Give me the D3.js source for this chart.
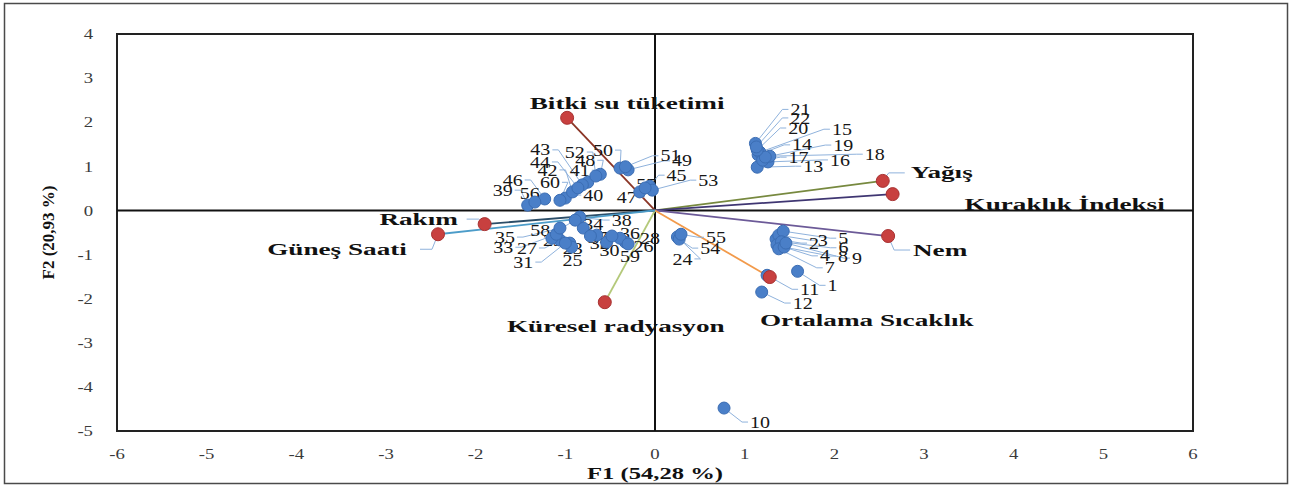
<!DOCTYPE html>
<html>
<head>
<meta charset="utf-8">
<script src="https://cdn.jsdelivr.net/npm/d3@7"></script>
<style>
  html, body { margin: 0; padding: 0; background: #fff; }
  svg { display: block; }
</style>
</head>
<body>
<svg id="chart" width="1292" height="487"></svg>
<script>
// ---------- DATA ----------
const obsNames = Array.from({length: 60}, (_, i) => String(i + 1));
const obsF1 = [1.59, 1.35, 1.38, 1.36, 1.43, 1.41, 1.38, 1.44, 1.46, 0.77,
               1.25, 1.19, 1.14, 1.15, 1.17, 1.26, 1.20, 1.28, 1.23, 1.14,
               1.12, 1.13, -0.95, 0.25, -0.93, -0.33, -1.06, -0.39, -1.15, -0.54,
               -1.00, -0.65, -1.10, -0.80, -1.06, -0.48, -0.72, -0.84, -1.42, -1.00,
               -0.75, -0.92, -0.81, -0.86, -0.06, -1.23, -0.17, -0.61, -0.30, -0.39,
               -0.33, -0.66, -0.03, 0.27, 0.29, -1.34, -0.11, -0.89, -0.30, -1.06];
const obsF2 = [-1.38, -0.65, -0.56, -0.78, -0.47, -0.71, -0.87, -0.83, -0.74, -4.48,
               -1.47, -1.85, 0.98, 1.26, 1.32, 1.10, 1.14, 1.23, 1.21, 1.37,
               1.52, 1.44, -0.74, -0.60, -0.83, -0.72, -0.67, -0.63, -0.63, -0.72,
               -0.74, -0.56, -0.54, -0.40, -0.40, -0.58, -0.58, -0.15, 0.12, 0.28,
               0.64, 0.42, 0.58, 0.51, 0.55, 0.26, 0.42, 0.82, 0.92, 0.96,
               0.99, 0.78, 0.46, -0.65, -0.54, 0.19, 0.51, -0.22, -0.76, 0.23];

const varNames = ["Bitki su tüketimi", "Yağış", "Kuraklık İndeksi", "Nem",
                  "Ortalama Sıcaklık", "Küresel radyasyon", "Rakım", "Güneş Saati"];
const varF1 = [-0.98, 2.54, 2.65, 2.60, 1.28, -0.56, -1.90, -2.42];
const varF2 = [2.10, 0.67, 0.37, -0.58, -1.51, -2.08, -0.31, -0.54];

const xTicks = [-6, -5, -4, -3, -2, -1, 0, 1, 2, 3, 4, 5, 6];
const yTicks = [4, 3, 2, 1, 0, -1, -2, -3, -4, -5];
const xTitle = "F1 (54,28 %)";
const yTitle = "F2 (20,93 %)";

// ---------- STYLE / LAYOUT ----------
const varColors = ["#8B3526", "#77893F", "#3F3672", "#6C5A98",
                   "#F29A4B", "#B4C97A", "#2B4D68", "#4C9CC9"];
// label offsets in pixels relative to the marker (left edge / vertical middle)
const obsLabelOffset = [
  [30,14],[33,4],[39,5],[43,11],[55,7],[57,6],[46,19],[54,9],[66,15],[26,14],
  [33,14],[31,11],[46,-1],[34,-10],[72,-23],[62,-2],[26,-3],[95,-2],[68,-12],[31,-22],
  [35,-34],[34,-29],[-7,5],[-5,22],[-9,13],[8,4],[-43,8],[20,0],[-9,2],[-7,8],
  [-52,19],[-7,8],[-63,13],[0,-4],[-65,9],[8,-3],[-3,1],[32,3],[-35,-15],[18,-3],
  [-18,-12],[-35,-22],[-52,-35],[-48,-26],[17,-11],[-42,-19],[-23,5],[-25,-14],[44,-9],[-27,-18],
  [35,-11],[-31,-24],[46,-10],[21,9],[25,3],[-15,-9],[-9,-4],[-45,10],[-8,12],[-20,-18]
];
// variable label centre offsets in pixels
const varLabelOffset = [[60,-14],[59,-8],[172,10],[52,14],[97,43],[11,24],[-66,-5],[-101,15]];
const varLeader = [false, true, false, true, false, false, true, true];

const W = 1292, H = 487;
const plot = {left: 117, right: 1193, top: 34, bottom: 431};
const serif = "'Liberation Serif', 'Times New Roman', serif";

const svg = d3.select("#chart");
const x = d3.scaleLinear().domain([-6, 6]).range([plot.left, plot.right]);
const y = d3.scaleLinear().domain([-5, 4]).range([plot.bottom, plot.top]);

// outer border
svg.append("rect").attr("x", 4.5).attr("y", 3.5).attr("width", W - 9).attr("height", H - 7)
  .attr("fill", "#fff").attr("stroke", "#4a4a4a").attr("stroke-width", 1.5);

// helper for horizontally stretched text
function sText(parent, tx, ty, str, opts) {
  const g = parent.append("g").attr("transform", `translate(${tx},${ty})`);
  const t = g.append("text")
    .attr("transform", `scale(${opts.sx || 1},1)`)
    .attr("dy", "0.35em")
    .attr("text-anchor", opts.anchor || "start")
    .attr("font-family", serif)
    .attr("font-size", opts.size)
    .attr("font-weight", opts.weight || "normal")
    .attr("fill", opts.fill || "#111")
    .text(str);
  return t;
}

// plot frame
svg.append("rect").attr("x", plot.left).attr("y", plot.top)
  .attr("width", plot.right - plot.left).attr("height", plot.bottom - plot.top)
  .attr("fill", "none").attr("stroke", "#222").attr("stroke-width", 2);

// zero axes
svg.append("line").attr("x1", x(0)).attr("x2", x(0)).attr("y1", plot.top).attr("y2", plot.bottom)
  .attr("stroke", "#111").attr("stroke-width", 2);
svg.append("line").attr("x1", plot.left).attr("x2", plot.right).attr("y1", y(0)).attr("y2", y(0))
  .attr("stroke", "#111").attr("stroke-width", 2);

// tick labels
const tickG = svg.append("g");
xTicks.forEach(v => sText(tickG, x(v), 454, String(v), {size: 15, sx: 1.25, anchor: "middle", fill: "#3a3a3a"}));
yTicks.forEach(v => sText(tickG, 93, y(v), String(v), {size: 15, sx: 1.25, anchor: "end", fill: "#3a3a3a"}));

// axis titles
sText(svg, x(0), 473, xTitle, {size: 17, sx: 1.45, anchor: "middle", weight: "bold"});
svg.append("text")
  .attr("transform", `translate(48,${(plot.top + plot.bottom) / 2}) rotate(-90)`)
  .attr("dy", "0.35em").attr("text-anchor", "middle")
  .attr("font-family", serif).attr("font-size", 17).attr("font-weight", "bold")
  .attr("fill", "#111").text(yTitle);

// variable vectors
const vecG = svg.append("g");
varNames.forEach((n, i) => {
  vecG.append("line").attr("x1", x(0)).attr("y1", y(0))
    .attr("x2", x(varF1[i])).attr("y2", y(varF2[i]))
    .attr("stroke", varColors[i]).attr("stroke-width", 1.8);
});

// observation leader lines + labels
const leadG = svg.append("g");
const obsLabG = svg.append("g");
const obsPtG = svg.append("g");
obsNames.forEach((n, i) => {
  const px = x(obsF1[i]), py = y(obsF2[i]);
  const [dx, dy] = obsLabelOffset[i];
  const lx = px + dx, ly = py + dy;
  const w = n.length * 10;
  const dist = Math.hypot(dx, dy);
  if (dist > 18) {
    let ex, stub;
    if (lx > px) { ex = lx - 2; stub = ex - 6; } else { ex = lx + w + 2; stub = ex + 6; }
    leadG.append("polyline")
      .attr("points", `${px},${py} ${stub},${ly} ${ex},${ly}`)
      .attr("fill", "none").attr("stroke", "#8FB2DC").attr("stroke-width", 1);
  }
  sText(obsLabG, lx, ly, n, {size: 16, sx: 1.25, fill: "#161616"});
});
obsNames.forEach((n, i) => {
  obsPtG.append("circle").attr("cx", x(obsF1[i])).attr("cy", y(obsF2[i])).attr("r", 6)
    .attr("fill", "#4A7FC8").attr("stroke", "#3B6DB3").attr("stroke-width", 1);
});

// variable markers and labels
const varG = svg.append("g");
varNames.forEach((n, i) => {
  const px = x(varF1[i]), py = y(varF2[i]);
  const [dx, dy] = varLabelOffset[i];
  if (varLeader[i]) {
    const lx = px + dx, ly = py + dy;
    const ex = dx > 0 ? px + 22 : px - 18;
    const side = dx > 0 ? 1 : -1;
    varG.append("polyline")
      .attr("points", `${px},${py} ${px + side * 6},${ly} ${ex},${ly}`)
      .attr("fill", "none").attr("stroke", "#8FB2DC").attr("stroke-width", 1);
  }
  varG.append("circle").attr("cx", px).attr("cy", py).attr("r", 6.5)
    .attr("fill", "#C8403F").attr("stroke", "#A83232").attr("stroke-width", 1);
  sText(varG, px + dx, py + dy, n, {size: 16, sx: 1.7, anchor: "middle", weight: "bold"});
});
</script>
</body>
</html>
